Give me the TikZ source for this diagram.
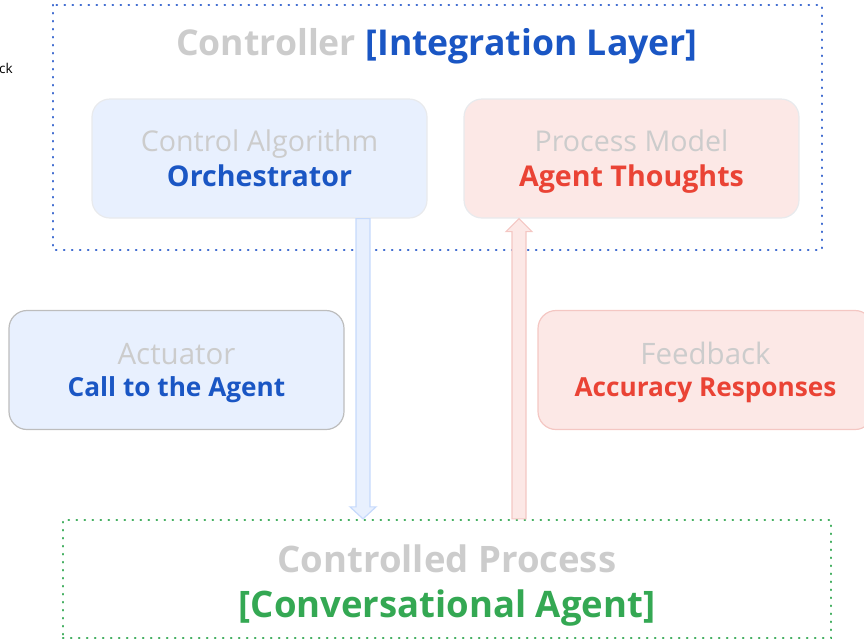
\documentclass[tikz,border=0pt]{standalone}
\usepackage{fontspec}
\setmainfont{Open Sans}
\usetikzlibrary{calc}
\definecolor{gtxt}{HTML}{CCCCCC}
\definecolor{gblue}{HTML}{1A56C4}
\definecolor{gred}{HTML}{EA4335}
\definecolor{ggreen}{HTML}{34A853}
\definecolor{bfill}{HTML}{E8F0FE}
\definecolor{bline}{HTML}{C6DAFC}
\definecolor{rfill}{HTML}{FCE8E6}
\definecolor{rline}{HTML}{F4C7C3}
\definecolor{lgray}{HTML}{E8EAED}
\definecolor{mgray}{HTML}{BDBDBD}
\definecolor{dblue}{HTML}{2F5FCC}
\tikzset{
  card/.style={rounded corners=18pt, minimum width=335pt, minimum height=119pt,
    line width=1.2pt, align=center, inner sep=0pt},
  topcard/.style={card, font=\fontsize{28.6}{35}\selectfont,
    text height=60pt, text depth=3.6pt},
  midcard/.style={card, font=\fontsize{26.2}{32}\selectfont,
    text height=56pt, text depth=2.6pt},
  group/.style={line width=2.3pt, dash pattern=on 0.4pt off 7.6pt, line cap=round},
  hollow/.style={line width=1.2pt, line join=miter},
}
\newcommand{\headline}[1]{{\fontsize{29.5}{32}\selectfont #1}}
\begin{document}
\begin{tikzpicture}[x=1pt, y=-1pt]
\clip (0,0) rectangle (864,641);

% stray label fragment at the left edge
\node[anchor=base west, inner sep=0pt, font=\fontsize{13.5}{16}\selectfont] (frag) at (-1,73) {ck};

% controller group
\draw[group, dblue] (53,5) rectangle (822,250);
\node[anchor=base, font=\fontsize{35.6}{44}\selectfont\bfseries] (ctitle) at (437,55)
  {\textcolor{gtxt}{Controller} \textcolor{gblue}{[Integration Layer]}};

\node[topcard, fill=bfill, draw=lgray] (orch) at (259.5,158.5)
  {\textcolor{gtxt}{Control Algorithm}\\\textcolor{gblue}{\bfseries Orchestrator}};
\node[topcard, fill=rfill, draw=lgray] (model) at (631.5,158.5)
  {\textcolor{gtxt}{Process Model}\\\textcolor{gred}{\bfseries Agent Thoughts}};

% actuator and feedback
\node[midcard, fill=bfill, draw=mgray] (act) at (176.5,370)
  {\textcolor{gtxt}{\headline{Actuator}}\\\textcolor{gblue}{\bfseries Call to the Agent}};
\node[midcard, fill=rfill, draw=rline] (fb) at (705.5,370)
  {\textcolor{gtxt}{\headline{Feedback}}\\\textcolor{gred}{\bfseries Accuracy Responses}};

% controlled process group
\node[group, draw=ggreen, minimum width=768pt, minimum height=118pt, inner sep=0pt,
  align=center, font=\fontsize{36.5}{45}\selectfont\bfseries,
  text height=80pt, text depth=4pt] (cp) at (447,579)
  {\textcolor{gtxt}{Controlled Process}\\\textcolor{ggreen}{[Conversational Agent]}};

% arrow end points on the box edges
\coordinate (dtop) at (orch.south -| 363,0);
\coordinate (dtip) at (dtop |- cp.north);
\coordinate (utip) at (model.south -| 519,0);
\coordinate (ubot) at (utip |- cp.north);

% control action, down to the process
\filldraw[hollow, fill=bfill, draw=bline]
  ($(dtop)+(-7,0)$) -- ($(dtop)+(7,0)$) -- ($(dtip)+(7,-12)$) -- ($(dtip)+(13,-12)$)
  -- (dtip) -- ($(dtip)+(-13,-12)$) -- ($(dtip)+(-7,-12)$) -- cycle;
% feedback, up to the process model
\filldraw[hollow, fill=rfill, draw=rline]
  ($(ubot)+(-7,0)$) -- ($(ubot)+(7,0)$) -- ($(utip)+(7,13)$) -- ($(utip)+(13,13)$)
  -- (utip) -- ($(utip)+(-13,13)$) -- ($(utip)+(-7,13)$) -- cycle;
\end{tikzpicture}
\end{document}
